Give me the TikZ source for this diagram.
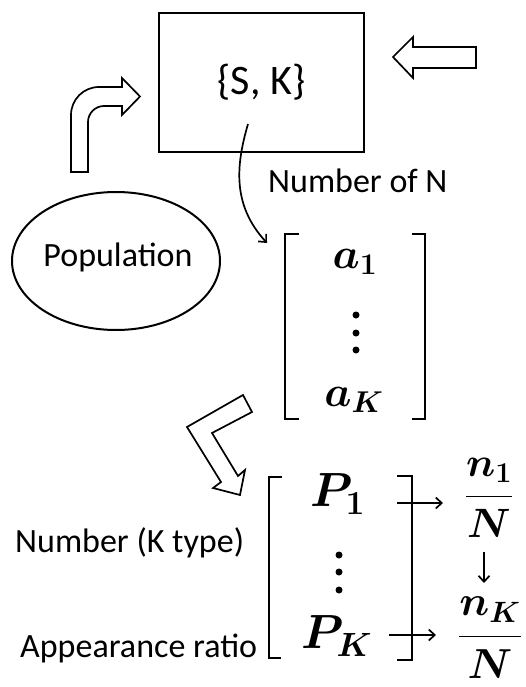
\RequirePackage{fix-cm}
\documentclass[tikz,border=0pt]{standalone}
\usepackage{amsmath}
\usepackage{fontspec}
\setmainfont{Carlito}
\usetikzlibrary{shapes.geometric,arrows.meta}
\tikzset{
  lbl/.style={font=\fontsize{34}{39}\selectfont, inner sep=0pt},
  brk/.style={line width=2.8pt},
  blk/.style={line width=1.7pt, line join=miter, fill=white},
  arr/.style={line width=1.7pt, -{Straight Barb[length=6pt,width=11pt,line width=1.7pt]}},
  dotn/.style={circle, fill=black, inner sep=0pt, minimum size=7pt},
  mth/.style={inner sep=0pt}
}
\begin{document}
\begin{tikzpicture}[x=1pt,y=-1pt]
\useasboundingbox (0,0) rectangle (526,687);
% box
\node[draw, line width=2pt, minimum width=205pt, minimum height=139pt, inner sep=0pt,
  font=\fontsize{42}{48}\selectfont] (box) at (261.5,82.5) {\{S, K\}};
% left-pointing block arrow
\draw[blk] (393,57) -- (413,37) -- (413,47) -- (476,47) -- (476,68) -- (413,68) -- (413,78) -- cycle;
% bent block arrow
\draw[blk] (71,172) -- (71,115) .. controls (71,99.5) and (83.5,87) .. (99,87) -- (122,87) -- (122,78)
  -- (140,96.5) -- (122,115) -- (122,106) -- (104,106) .. controls (95.2,106) and (88,113.2) .. (88,122)
  -- (88,172) -- cycle;
% ellipse
\node[ellipse, draw, line width=2pt, minimum width=208pt, minimum height=138pt, inner sep=0pt] (pop) at (116,261) {};
\node[lbl] (poptext) at (118,257) {Population};
% number of N
\node[lbl, anchor=base west] (numN) at (268,193) {Number of N};
% curved arrow
\coordinate (cs) at (248,124);
\coordinate (ce) at (267,243);
\draw[arr] (cs) .. controls (236,165) and (232,205) .. (ce);
% matrix a brackets
\draw[brk] (299,234) -- (285,234) -- (285,419) -- (299,419);
\draw[brk] (412,234) -- (425,234) -- (425,419) -- (412,419);
\node[mth] (a1) at (355,262) {\fontsize{43}{50}\selectfont$\boldsymbol{a_1}$};
\node[dotn] (ad1) at (356,315) {};
\node[dotn] (ad2) at (356,333) {};
\node[dotn] (ad3) at (356,350) {};
\node[mth] (aK) at (354,400) {\fontsize{43}{50}\selectfont$\boldsymbol{a_K}$};
% hollow bent arrow
\draw[blk] (243,395) -- (252,412) -- (212,433) -- (238,476) -- (245,470) -- (240,495)
  -- (213,488) -- (221,482) -- (187,427) -- cycle;
% lower matrix brackets
\draw[brk] (282,477) -- (269,477) -- (269,658) -- (281,658);
\draw[brk] (397,476) -- (412,476) -- (412,660) -- (397,660);
\node[mth] (P1) at (338,494) {\fontsize{48}{56}\selectfont$\boldsymbol{P_1}$};
\node[dotn] (pd1) at (339,555) {};
\node[dotn] (pd2) at (339,572) {};
\node[dotn] (pd3) at (339,590) {};
\node[mth] (PK) at (337,636) {\fontsize{48}{56}\selectfont$\boldsymbol{P_K}$};
% fractions
\node[mth] (f1) at (489,498) {\fontsize{41}{48}\selectfont$\boldsymbol{\dfrac{n_1}{N}}$};
\node[mth] (fK) at (490,638) {\fontsize{42}{50}\selectfont$\boldsymbol{\dfrac{n_K}{N}}$};
% small arrows
\coordinate (r1s) at (397,503);
\coordinate (r1e) at (443,503);
\draw[arr] (r1s) -- (r1e);
\coordinate (rKs) at (389,635);
\coordinate (rKe) at (436,635);
\draw[arr] (rKs) -- (rKe);
\coordinate (ds) at (484,552);
\coordinate (de) at (484,583);
\draw[arr] (ds) -- (de);
% left labels
\node[lbl, anchor=base west] (nk) at (15,552) {Number (K type)};
\node[lbl, anchor=base west] (ar) at (20,657) {Appearance ratio};
\end{tikzpicture}
\end{document}
